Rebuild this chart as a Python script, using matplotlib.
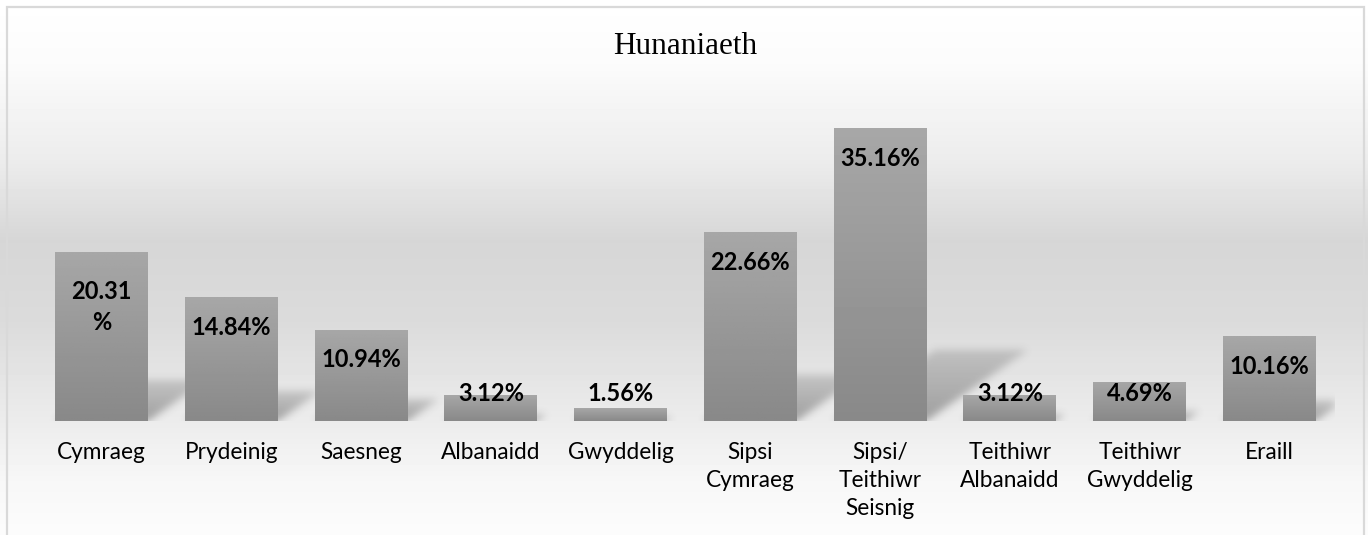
import matplotlib
matplotlib.use("Agg")
import matplotlib.pyplot as plt
import numpy as np

categories = ['Cymraeg', 'Prydeinig', 'Saesneg', 'Albanaidd', 'Gwyddelig',
              'Sipsi\nCymraeg', 'Sipsi/\nTeithiwr\nSeisnig', 'Teithiwr\nAlbanaidd',
              'Teithiwr\nGwyddelig', 'Eraill']
values = [20.31, 14.84, 10.94, 3.12, 1.56, 22.66, 35.16, 3.12, 4.69, 10.16]
value_labels = ['20.31\n%', '14.84%', '10.94%', '3.12%', '1.56%',
                '22.66%', '35.16%', '3.12%', '4.69%', '10.16%']
title = 'Hunaniaeth'

W, H = 1368, 535
fig = plt.figure(figsize=(W / 100, H / 100), dpi=100)

# background gradient (white -> grey -> white)
bg = fig.add_axes([0, 0, 1, 1], zorder=-10)
stops_y = [0.0, 0.12, 0.30, 0.45, 0.60, 0.79, 0.90, 1.0]
stops_c = [255, 251, 236, 214, 219, 236, 247, 252]
yy = np.linspace(0, 1, H)
col = np.interp(yy, stops_y, stops_c) / 255.0
grad = np.repeat(col[:, None], 2, axis=1)
bg.imshow(grad, cmap='gray', vmin=0, vmax=1, aspect='auto', extent=(0, 1, 1, 0))
bg.set_xlim(0, 1)
bg.set_ylim(1, 0)
bg.axis('off')
# chart border
bx0, bx1, by0 = 6.5 / W, 1363.5 / W, 6.5 / H
bg.plot([bx0, bx0, bx1, bx1], [1.02, by0, by0, 1.02], color='#d9d9d9', lw=1.6,
        solid_joinstyle='miter')

fig.text(0.501, 1 - 47 / H, title, ha='center', va='center',
         fontsize=22.5, family='Liberation Serif', color='#000000')

# main axes: baseline at y=421px, bars spaced ~129.8px
left = 36.6 / W
right = 1334.4 / W
bottom = (H - 421) / H
ymax = 40
top = (H - (421 - ymax * 8.33)) / H
ax = fig.add_axes([left, bottom, right - left, top - bottom])
ax.patch.set_alpha(0)

x = np.arange(len(values))
bw = 0.716
bars = ax.bar(x, values, width=bw, color='#999999', zorder=3)

# blurred perspective shadows behind the bars
nx, ny = 1298, 333
gx = np.linspace(-0.5, 9.5, nx)
gy = np.linspace(0, ymax, ny)
GX, GY = np.meshgrid(gx, gy)
alpha = np.zeros_like(GX)
for xi, v in zip(x, values):
    sy = 0.24 * v
    dx = 0.022 * v
    t = np.clip(GY / sy, 0, None)
    lo = xi - bw / 2 + dx * t
    hi = xi + bw / 2 + dx * t
    m = (GY <= sy) & (GX >= lo) & (GX <= hi)
    a = np.where(m, 0.45 * (1 - 0.55 * t), 0)
    alpha = np.maximum(alpha, a)
k = np.exp(-0.5 * (np.arange(-12, 13) / 4.0) ** 2)
k /= k.sum()
alpha = np.apply_along_axis(lambda r: np.convolve(r, k, mode='same'), 1, alpha)
alpha = np.apply_along_axis(lambda c: np.convolve(c, k, mode='same'), 0, alpha)
rgba = np.zeros((ny, nx, 4))
rgba[..., :3] = 0.25
rgba[..., 3] = alpha
ax.imshow(rgba, extent=(-0.5, 9.5, 0, ymax), origin='lower', aspect='auto',
          zorder=1, interpolation='bilinear')

# bar gradient fill
for b, v in zip(bars, values):
    g = np.linspace(0.537, 0.655, 64)[:, None]
    im = ax.imshow(g, cmap='gray', vmin=0, vmax=1, aspect='auto', origin='lower',
                   extent=(b.get_x(), b.get_x() + bw, 0, v), zorder=4)
    im.set_clip_path(b)

for xi, v, lab in zip(x, values, value_labels):
    off = 6.6 if '\n' in lab else 3.6
    ax.text(xi, max(v - off, 3.36), lab, ha='center', va='center',
            fontsize=17, fontweight='bold', family='Lato', color='#000000',
            zorder=6, linespacing=1.4)

ax.set_xlim(-0.5, 9.5)
ax.set_ylim(0, ymax)
ax.set_xticks(x)
ax.set_xticklabels(categories, fontsize=16.3, family='Lato', color='#000000',
                   linespacing=1.42)
ax.tick_params(axis='x', length=0, pad=15)
ax.set_yticks([])
for s in ax.spines.values():
    s.set_visible(False)

fig.savefig('out.png', dpi=100)
